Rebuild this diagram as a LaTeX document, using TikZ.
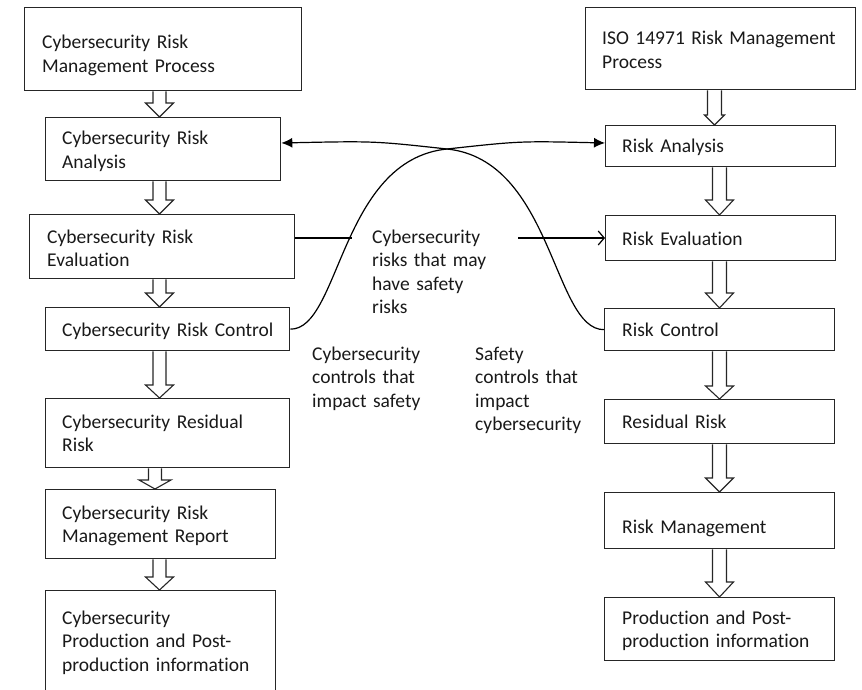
\documentclass[tikz,border=0pt]{standalone}
\usepackage{fontspec}
\setmainfont{Carlito}[Ligatures=NoCommon]
\usetikzlibrary{arrows.meta,calc}
\begin{document}
\begin{tikzpicture}[x=1pt,y=-1pt,
  box/.style={draw=black!85, line width=1.3pt, anchor=north west, inner sep=0pt, minimum width=#1},
  txt/.style={anchor=base west, inner sep=0pt, align=left, text width=260pt,
              font=\fontsize{19.5}{23.5}\selectfont, text=black!90},
  blk/.style n args={3}{draw=black!85, line width=1.1pt, fill=white,
    to path={let \p1=(\tikztostart), \p2=(\tikztotarget) in
      (\x1-#1,\y1) -- (\x1-#1,\y2+#3) -- (\x1-#2,\y2+#3) -- (\x1,\y2)
      -- (\x1+#2,\y2+#3) -- (\x1+#1,\y2+#3) -- (\x1+#1,\y1)}},
  conn/.style={draw=black, line width=1.2pt},
  fill arrow/.style={-{Latex[length=11pt,width=10pt]}},
  open arrow/.style={-{Straight Barb[length=6pt,width=14pt,line width=1.2pt]}}
]
\useasboundingbox (0,0) rectangle (862,690);
\begin{scope}
\clip (0,0) rectangle (862,690);
% left column boxes
\node[box=277pt, minimum height=83pt] (b1) at (24,7) {};
\node[box=235pt, minimum height=63pt] (b2) at (45,117) {};
\node[box=265pt, minimum height=64pt] (b3) at (29,214) {};
\node[box=244pt, minimum height=43pt] (b4) at (45,307) {};
\node[box=244pt, minimum height=69pt] (b5) at (45,398) {};
\node[box=230pt, minimum height=69pt] (b6) at (45,489) {};
\node[box=230pt, minimum height=110pt] (b7) at (45,590) {};
% right column boxes
\node[box=270pt, minimum height=82pt] (r1) at (585,7) {};
\node[box=230pt, minimum height=41pt] (r2) at (605,125) {};
\node[box=230pt, minimum height=45pt] (r3) at (605,215) {};
\node[box=230pt, minimum height=42pt] (r4) at (604,308) {};
\node[box=230pt, minimum height=44pt] (r5) at (604,399) {};
\node[box=230pt, minimum height=56pt] (r6) at (604,492) {};
\node[box=230pt, minimum height=63pt] (r7) at (604,597) {};
\end{scope}
% texts
\node[txt] (t1) at (42,49) {Cybersecurity Risk\\Management Process};
\node[txt] (t2) at (62,145) {Cybersecurity Risk\\Analysis};
\node[txt] (t3) at (47,243) {Cybersecurity Risk\\Evaluation};
\node[txt] (t4) at (62,336) {Cybersecurity Risk Control};
\node[txt] (t5) at (62,428) {Cybersecurity Residual\\Risk};
\node[txt] (t6) at (62,519) {Cybersecurity Risk\\Management Report};
\node[txt] (t7) at (62,624) {Cybersecurity\\Production and Post-\\production information};
\node[txt] (s1) at (602,45) {ISO 14971 Risk Management\\Process};
\node[txt] (s2) at (622,153) {Risk Analysis};
\node[txt] (s3) at (622,245) {Risk Evaluation};
\node[txt] (s4) at (622,336) {Risk Control};
\node[txt] (s5) at (622,428) {Residual Risk};
\node[txt] (s6) at (622,533) {Risk Management};
\node[txt] (s7) at (622,624) {Production and Post-\\production information};
\node[txt] (m1) at (372,243) {Cybersecurity\\risks that may\\have safety\\risks};
\node[txt] (m2) at (312,360) {Cybersecurity\\controls that\\impact safety};
\node[txt] (m3) at (475,360) {Safety\\controls that\\impact\\cybersecurity};
% block arrows
\coordinate (lc) at (159.5,0);
\coordinate (lc5) at (155,0);
\coordinate (rc1) at (714.5,0);
\coordinate (rc) at (719.5,0);
\path (b1.south -| lc) edge[blk={6.5}{14}{14}] (b2.north -| lc);
\path (b2.south -| lc) edge[blk={6.5}{14}{14}] (b3.north -| lc);
\path (b3.south -| lc) edge[blk={6.5}{14}{14}] (b4.north -| lc);
\path (b4.south -| lc) edge[blk={6.5}{14}{13}] (b5.north -| lc);
\path (b5.south -| lc5) edge[blk={6.5}{16}{9}] (b6.north -| lc5);
\path (b6.south -| lc) edge[blk={6.5}{14}{13}] (b7.north -| lc);
\path (r1.south -| rc1) edge[blk={7}{10}{10}] (r2.north -| rc1);
\path (r2.south -| rc) edge[blk={7}{14}{15}] (r3.north -| rc);
\path (r3.south -| rc) edge[blk={7}{14}{15}] (r4.north -| rc);
\path (r4.south -| rc) edge[blk={7}{14}{13}] (r5.north -| rc);
\path (r5.south -| rc) edge[blk={7}{14}{14}] (r6.north -| rc);
\path (r6.south -| rc) edge[blk={7}{14}{15}] (r7.north -| rc);
% evaluation connector (broken around the label)
\coordinate (e1) at (352,238);
\coordinate (e2) at (518,238);
\draw[conn] (b3.east |- e1) -- (e1);
\draw[conn, open arrow] (e2) -- (r3.west |- e2);
% crossing curves
\coordinate (x) at (447,149);
\draw[conn, fill arrow] (b4.east) .. controls (340,330) and (340,160) .. (x)
  .. controls (520,141) .. (r2.west |- 0,143);
\draw[conn, fill arrow] (r4.west) .. controls (553,330) and (553,160) .. (x)
  .. controls (374,141) .. (b2.east |- 0,143);
\end{tikzpicture}
\end{document}
